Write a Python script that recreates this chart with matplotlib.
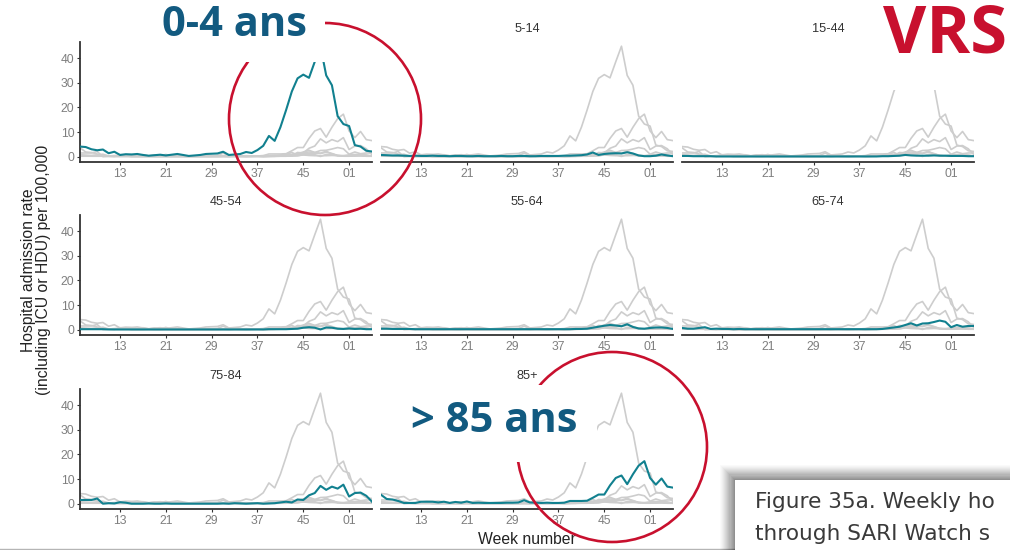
import matplotlib
matplotlib.use("Agg")
import matplotlib.pyplot as plt
from matplotlib.patches import Circle, Rectangle

# ---------------- data ----------------
weeks = [6, 7, 8, 9, 10, 11, 12, 13, 14, 15, 16, 17, 18, 19, 20, 21, 22, 23, 24, 25,
         26, 27, 28, 29, 30, 31, 32, 33, 34, 35, 36, 37, 38, 39, 40, 41, 42, 43, 44, 45,
         46, 47, 48, 49, 50, 51, 52, 1, 2, 3, 4, 5]
tick_weeks = [13, 21, 29, 37, 45, 1]
y_ticks = [0, 10, 20, 30, 40]

age_groups = ["0-4", "5-14", "15-44", "45-54", "55-64", "65-74", "75-84", "85+"]

rate_0_4 = [4.2, 4.0, 3.1, 2.7, 3.0, 1.5, 2.1, 0.8, 1.1, 1.0,
            1.2, 0.8, 0.5, 0.7, 0.9, 0.6, 0.9, 1.2, 0.8, 0.4,
            0.6, 0.8, 1.2, 1.3, 1.4, 2.1, 0.8, 1.0, 1.2, 2.0,
            1.6, 2.8, 4.5, 8.5, 6.5, 12.0, 19.0, 26.5, 31.8, 33.3,
            32.0, 38.5, 44.8, 33.0, 29.0, 16.5, 13.3, 12.5, 4.8, 4.2,
            2.5, 2.2]
rate_5_14 = [0.8, 0.7, 0.6, 0.6, 0.5, 0.4, 0.5, 0.4, 0.4, 0.5,
             0.4, 0.4, 0.3, 0.4, 0.4, 0.3, 0.3, 0.4, 0.3, 0.3,
             0.3, 0.4, 0.3, 0.3, 0.4, 0.4, 0.3, 0.3, 0.4, 0.4,
             0.4, 0.4, 0.5, 0.5, 0.6, 0.7, 1.0, 1.8, 0.8, 1.2,
             1.4, 1.5, 1.4, 1.9, 1.4, 0.6, 0.3, 0.3, 0.5, 1.0,
             0.6, 0.3]
rate_15_44 = [0.4, 0.4, 0.3, 0.3, 0.3, 0.3, 0.2, 0.2, 0.2, 0.2,
              0.2, 0.2, 0.2, 0.2, 0.2, 0.2, 0.2, 0.2, 0.2, 0.2,
              0.2, 0.2, 0.2, 0.2, 0.2, 0.2, 0.2, 0.2, 0.2, 0.2,
              0.2, 0.2, 0.2, 0.2, 0.2, 0.3, 0.3, 0.4, 0.5, 0.8,
              0.6, 0.5, 0.5, 0.5, 0.6, 0.5, 0.5, 0.4, 0.4, 0.4,
              0.3, 0.3]
rate_45_54 = [0.3, 0.3, 0.3, 0.3, 0.3, 0.2, 0.2, 0.2, 0.2, 0.2,
              0.2, 0.2, 0.2, 0.2, 0.2, 0.2, 0.2, 0.2, 0.2, 0.2,
              0.2, 0.2, 0.2, 0.2, 0.2, 0.2, 0.2, 0.2, 0.2, 0.2,
              0.2, 0.2, 0.2, 0.3, 0.3, 0.3, 0.3, 0.4, 0.5, 0.9,
              1.1, 0.9, 0.2, 1.0, 0.9, 0.5, 0.4, 0.6, 0.4, 0.5,
              0.3, 0.3]
rate_55_64 = [0.5, 0.5, 0.4, 0.4, 0.4, 0.4, 0.3, 0.3, 0.3, 0.3,
              0.3, 0.3, 0.3, 0.3, 0.3, 0.3, 0.3, 0.3, 0.3, 0.3,
              0.3, 0.3, 0.3, 0.3, 0.3, 0.3, 0.3, 0.3, 0.3, 0.3,
              0.3, 0.3, 0.3, 0.3, 0.4, 0.4, 0.5, 0.9, 1.3, 1.7,
              2.0, 1.8, 1.5, 2.3, 1.2, 0.6, 0.5, 0.8, 1.0, 1.0,
              0.8, 0.4]
rate_65_74 = [0.8, 0.5, 0.5, 0.8, 1.1, 0.4, 0.5, 0.4, 0.4, 0.3,
              0.4, 0.3, 0.3, 0.3, 0.3, 0.3, 0.3, 0.3, 0.3, 0.3,
              0.3, 0.3, 0.3, 0.3, 0.3, 0.3, 0.3, 0.3, 0.3, 0.3,
              0.3, 0.3, 0.3, 0.3, 0.3, 0.4, 0.7, 1.0, 1.3, 2.0,
              2.7, 1.8, 2.6, 2.7, 3.2, 3.8, 3.3, 1.1, 2.0, 1.3,
              1.6, 1.6]
rate_75_84 = [1.6, 1.6, 1.6, 2.2, 0.1, 0.3, 0.2, 0.7, 0.5, 0.1,
              0.1, 0.1, 0.2, 0.1, 0.1, 0.2, 0.1, 0.1, 0.1, 0.1,
              0.1, 0.1, 0.1, 0.1, 0.1, 0.2, 0.1, 0.3, 0.2, 0.1,
              0.2, 0.3, 0.1, 0.2, 0.3, 0.6, 0.9, 0.6, 1.8, 1.6,
              3.5, 4.4, 7.3, 5.7, 7.0, 6.2, 7.8, 3.0, 4.4, 4.6,
              3.3, 0.9]
rate_85_plus = [3.7, 2.0, 1.8, 1.2, 0.4, 0.4, 0.4, 0.9, 0.9, 0.9,
                0.6, 0.9, 0.4, 0.8, 0.5, 1.0, 0.4, 0.5, 0.4, 0.4,
                0.4, 0.4, 0.5, 0.5, 0.6, 1.5, 0.6, 0.5, 0.4, 0.5,
                0.4, 0.4, 0.5, 1.2, 1.2, 1.2, 1.3, 2.5, 3.8, 3.8,
                7.5, 10.5, 11.5, 8.0, 12.0, 15.5, 17.3, 10.5, 7.8, 10.3,
                7.0, 6.6]

series = [rate_0_4, rate_5_14, rate_15_44, rate_45_54,
          rate_55_64, rate_65_74, rate_75_84, rate_85_plus]

# ---------------- style ----------------
W, H = 1010, 550
TEAL = "#11808f"
GREY = "#cdcdcd"
AXC = "#333333"
TICKLAB = "#7f7f7f"
RED = "#c8102e"
BLUE = "#125a80"
plt.rcParams["font.family"] = ["Liberation Sans", "DejaVu Sans"]

fig = plt.figure(figsize=(W / 100, H / 100), dpi=100)
fig.patch.set_facecolor("white")

col_x = [80, 381, 682]
row_y = [42, 215, 389]
PW, PH = 292, 120

x = list(range(len(weeks)))
tick_pos = [weeks.index(w) for w in tick_weeks]
tick_lab = [f"{w:02d}" for w in tick_weeks]

for i, (name, vals) in enumerate(zip(age_groups, series)):
    r, c = divmod(i, 3)
    x0, y0 = col_x[c], row_y[r]
    ax = fig.add_axes([x0 / W, 1 - (y0 + PH) / H, PW / W, PH / H])
    for j, other in enumerate(series):
        if j != i:
            ax.plot(x, other, color=GREY, lw=1.2, solid_joinstyle="round", zorder=2)
    ax.plot(x, vals, color=TEAL, lw=1.5, solid_joinstyle="round", zorder=3)
    ax.set_xlim(0, len(weeks) - 1)
    ax.set_ylim(-2.05, 46.5)
    for s in ("top", "right"):
        ax.spines[s].set_visible(False)
    ax.spines["bottom"].set_color(AXC)
    ax.spines["bottom"].set_linewidth(1.3)
    ax.set_xticks(tick_pos)
    ax.set_xticklabels(tick_lab)
    ax.tick_params(axis="x", length=2.5, width=0.8, color=AXC, labelsize=8.7,
                   labelcolor=TICKLAB, pad=2)
    if c == 0:
        ax.spines["left"].set_color(AXC)
        ax.spines["left"].set_linewidth(1.3)
        ax.set_yticks(y_ticks)
        ax.tick_params(axis="y", length=2.5, width=0.8, color=AXC, labelsize=8.7,
                       labelcolor=TICKLAB, pad=1.5)
    else:
        ax.spines["left"].set_visible(False)
        ax.set_yticks([])
    ax.patch.set_alpha(0)
    if i != 0:  # the 0-4 strip title is covered by the "0-4 ans" label in the reference
        ax.annotate(name, xy=(0.5, 1.0), xycoords="axes fraction", xytext=(0, 9.2),
                    textcoords="offset points", ha="center", va="center",
                    fontsize=9.2, color="#333333")

# axis titles
fig.text(36 / W, 1 - 270 / H, "Hospital admission rate\n(including ICU or HDU) per 100,000",
         rotation=90, ha="center", va="center", fontsize=11.3, color="#222222",
         multialignment="center", linespacing=1.0)
fig.text(527 / W, 1 - 540 / H, "Week number", ha="center", va="center",
         fontsize=11.3, color="#222222")

# ---------------- overlay annotations ----------------
ov = fig.add_axes([0, 0, 1, 1], zorder=10)
ov.set_xlim(0, W)
ov.set_ylim(H, 0)
ov.axis("off")
ov.patch.set_alpha(0)

ov.add_patch(Circle((325, 119), 96, fill=False, ec=RED, lw=1.9, zorder=1))
ov.add_patch(Circle((612, 447), 95, fill=False, ec=RED, lw=1.9, zorder=1))

ov.add_patch(Rectangle((150, 0), 175, 62, fc="white", ec="none", zorder=2))
ov.add_patch(Rectangle((870, 0), 140, 90, fc="white", ec="none", zorder=2))
ov.add_patch(Rectangle((400, 385), 197, 77, fc="white", ec="none", zorder=2))

ov.text(234, 26, "0-4 ans", ha="center", va="center", fontsize=30,
        fontweight="bold", color=BLUE, family=["Open Sans", "DejaVu Sans"], zorder=3)
ov.text(945, 35, "VRS", ha="center", va="center", fontsize=48,
        fontweight="bold", color=RED, family=["Open Sans", "DejaVu Sans"], zorder=3)
ov.text(494, 421, "> 85 ans", ha="center", va="center", fontsize=30,
        fontweight="bold", color=BLUE, family=["Open Sans", "DejaVu Sans"], zorder=3)

# caption box with soft shadow
for k in range(14):
    off = 15 - k * 1.05
    ov.add_patch(Rectangle((735 - off, 480 - off), 300, 100, fc="#000000",
                           ec="none", alpha=0.018 + 0.003 * k, zorder=4))
ov.add_patch(Rectangle((735, 480), 300, 100, fc="white", ec="none", zorder=5))
ov.text(755, 508, "Figure 35a. Weekly ho",
        ha="left", va="baseline", fontsize=15.6, color="#3a3a3a",
        family=["DejaVu Sans"], zorder=6)
ov.text(755, 540, "through SARI Watch s",
        ha="left", va="baseline", fontsize=15.6, color="#3a3a3a",
        family=["DejaVu Sans"], zorder=6)

ov.plot([0, 735], [548.5, 548.5], color="#b5b5b5", lw=1.0, zorder=3)

fig.savefig("out.png", dpi=100)
